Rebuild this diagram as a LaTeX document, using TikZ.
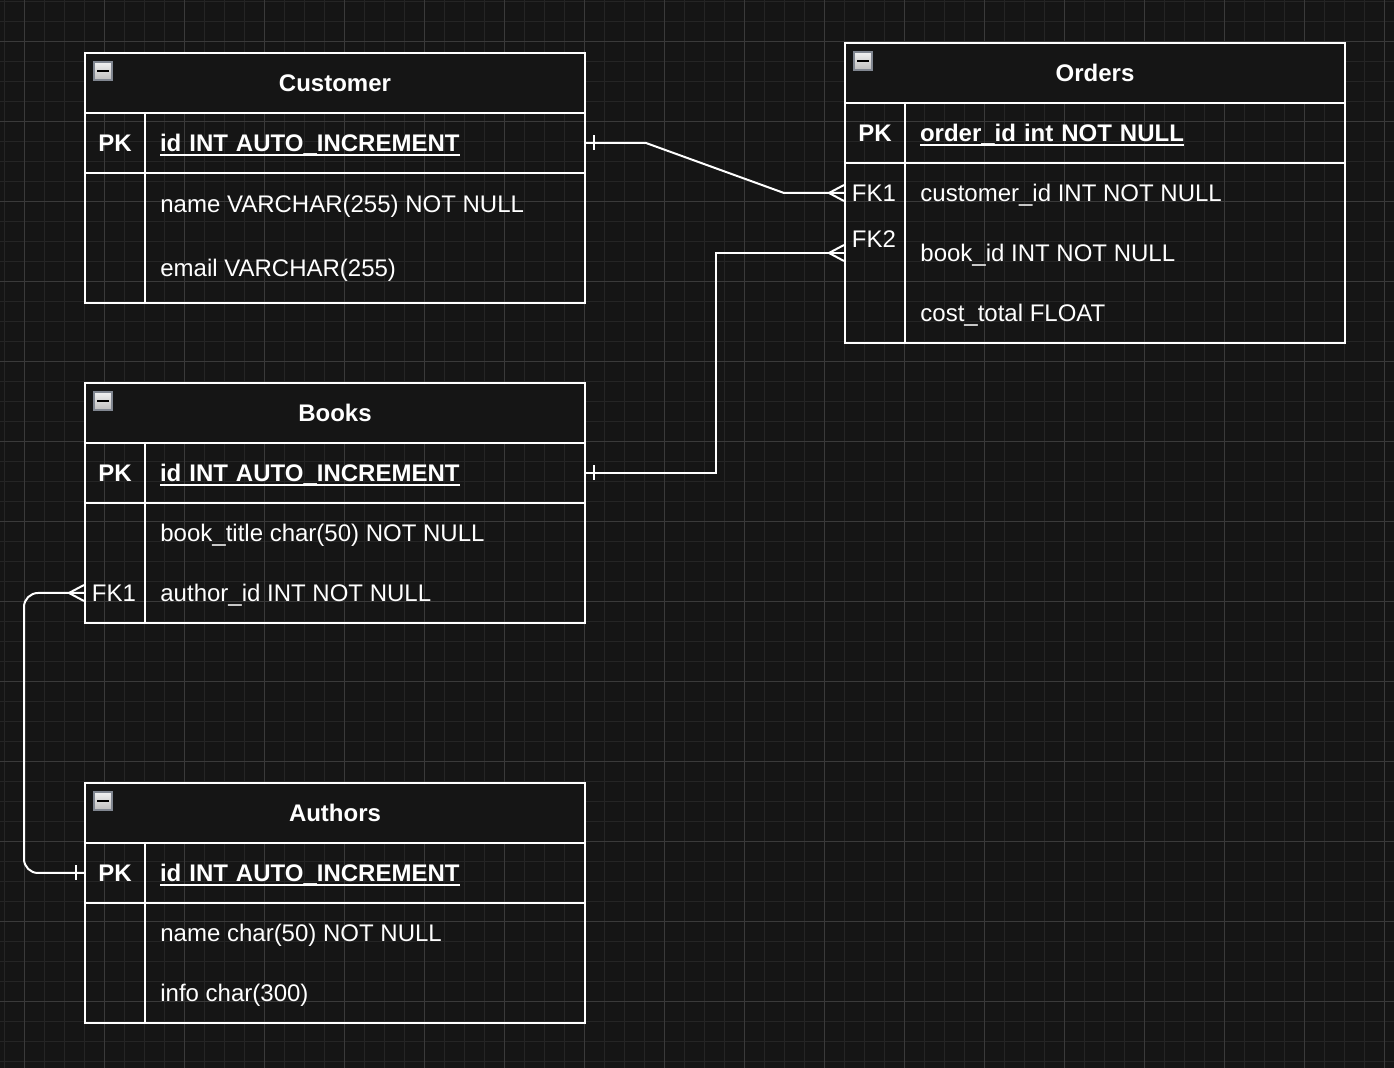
\documentclass[tikz,border=0pt]{standalone}
\usepackage{fontspec}
\setmainfont{Liberation Sans}
\usetikzlibrary{positioning,calc}
\definecolor{canvas}{RGB}{21,21,21}
\definecolor{gridfine}{RGB}{37,37,37}
\definecolor{gridbold}{RGB}{58,58,58}
\definecolor{iconedge}{RGB}{128,134,144}
\newcommand{\keyname}[1]{\setbox0\hbox{#1}\rlap{\rule[-2.4pt]{\wd0}{1pt}}\box0}

\tikzset{
  crowfoot/.pic={\draw[white, line width=1pt] (-15,0) -- (0,-8) (-15,0) -- (0,8);},
  onebar/.pic={\draw[white, line width=1pt] (0,-7.5) -- (0,7.5);}
}

\begin{document}
\begin{tikzpicture}[
  x=0.5pt, y=-0.5pt,
  font=\fontsize{12}{14}\selectfont,
  txt/.style={text=white, text height=8.6pt, text depth=0pt},
  head/.style={txt, draw=white, line width=1pt, fill=canvas, minimum width=250pt,
               minimum height=30pt, font=\fontsize{12}{14}\selectfont\bfseries},
  keycell/.style={txt, draw=white, line width=1pt, minimum width=30pt, minimum height=30pt,
                  inner sep=0pt},
  fieldcell/.style={txt, draw=white, line width=1pt, text width=205pt, inner xsep=7.5pt,
                    inner ysep=0pt, minimum height=30pt, align=left},
  field/.style={txt, anchor=west, inner sep=0pt},
  fkey/.style={txt, inner sep=0pt},
  link/.style={draw=white, line width=1pt},
  minbox/.style={draw=iconedge, line width=0.6pt, top color=white!95!black, bottom color=white!74!black,
                 minimum size=9pt, inner sep=0pt,
                 path picture={\fill[black] ($(path picture bounding box.center)+(-6,-1)$)
                   rectangle ($(path picture bounding box.center)+(6,1)$);}}
]
\useasboundingbox (0,0) rectangle (1394,1068);
\fill[canvas] (0,0) rectangle (1394,1068);
\foreach \x in {4,24,...,1394} \draw[gridfine, line width=0.5pt] (\x,0) -- (\x,1068);
\foreach \y in {2,22,...,1068} \draw[gridfine, line width=0.5pt] (0,\y) -- (1394,\y);
\foreach \x in {24,104,...,1394} \draw[gridbold, line width=0.5pt] (\x,0) -- (\x,1068);
\foreach \y in {42,122,...,1068} \draw[gridbold, line width=0.5pt] (0,\y) -- (1394,\y);

% Customer
\node[head] (cust) at (335,83) {Customer};
\node[minbox] (cust-min) at (103,71) {};
\node[keycell, font=\fontsize{12}{14}\selectfont\bfseries] (cust-pk) at (115,143) {PK};
\node[fieldcell, font=\fontsize{12}{14}\selectfont\bfseries] (cust-id) at (365,143) {\keyname{id INT AUTO\_INCREMENT}};
\node[keycell, minimum height=65pt] (cust-keys) at (115,238) {};
\node[fieldcell, minimum height=65pt] (cust-cols) at (365,238) {};
\node[field] (cust-name) at (160,204) {name VARCHAR(255) NOT NULL};
\node[field] (cust-mail) at (160,268) {email VARCHAR(255)};

% Orders
\node[head] (ord) at (1095,73) {Orders};
\node[minbox] (ord-min) at (863,61) {};
\node[keycell, font=\fontsize{12}{14}\selectfont\bfseries] (ord-pk) at (875,133) {PK};
\node[fieldcell, font=\fontsize{12}{14}\selectfont\bfseries] (ord-id) at (1125,133) {\keyname{order\_id int NOT NULL}};
\node[keycell, minimum height=90pt] (ord-keys) at (875,253) {};
\node[fieldcell, minimum height=90pt] (ord-cols) at (1125,253) {};
\node[fkey] (ord-fk1) at (874,193) {FK1};
\node[fkey] (ord-fk2) at (874,239) {FK2};
\node[field] (ord-cust) at (920,193) {customer\_id INT NOT NULL};
\node[field] (ord-book) at (920,253) {book\_id INT NOT NULL};
\node[field] (ord-cost) at (920,313) {cost\_total FLOAT};

% Books
\node[head] (books) at (335,413) {Books};
\node[minbox] (books-min) at (103,401) {};
\node[keycell, font=\fontsize{12}{14}\selectfont\bfseries] (books-pk) at (115,473) {PK};
\node[fieldcell, font=\fontsize{12}{14}\selectfont\bfseries] (books-id) at (365,473) {\keyname{id INT AUTO\_INCREMENT}};
\node[keycell, minimum height=60pt] (books-keys) at (115,563) {};
\node[fieldcell, minimum height=60pt] (books-cols) at (365,563) {};
\node[fkey] (books-fk1) at (114,593) {FK1};
\node[field] (books-title) at (160,533) {book\_title char(50) NOT NULL};
\node[field] (books-auth) at (160,593) {author\_id INT NOT NULL};

% Authors
\node[head] (auth) at (335,813) {Authors};
\node[minbox] (auth-min) at (103,801) {};
\node[keycell, font=\fontsize{12}{14}\selectfont\bfseries] (auth-pk) at (115,873) {PK};
\node[fieldcell, font=\fontsize{12}{14}\selectfont\bfseries] (auth-id) at (365,873) {\keyname{id INT AUTO\_INCREMENT}};
\node[keycell, minimum height=60pt] (auth-keys) at (115,963) {};
\node[fieldcell, minimum height=60pt] (auth-cols) at (365,963) {};
\node[field] (auth-name) at (160,933) {name char(50) NOT NULL};
\node[field] (auth-info) at (160,993) {info char(300)};

% relations
\draw[link] (cust-id.east) -- ++(60,0) -- ($(ord-keys.west |- ord-fk1)+(-60,0)$) -- (ord-keys.west |- ord-fk1);
\pic at ($(cust-id.east)+(8,0)$) {onebar};
\pic at (ord-keys.west |- ord-fk1) {crowfoot};

\draw[link] (books-id.east) -- ++(130,0) |- (ord-keys.west |- ord-book);
\pic at ($(books-id.east)+(8,0)$) {onebar};
\pic at (ord-keys.west |- ord-book) {crowfoot};

\draw[link, rounded corners=7pt] (auth-pk.west) -- ++(-60,0) |- (books-keys.west |- books-fk1);
\pic at ($(auth-pk.west)+(-8,0)$) {onebar};
\pic at (books-keys.west |- books-fk1) {crowfoot};
\end{tikzpicture}
\end{document}
